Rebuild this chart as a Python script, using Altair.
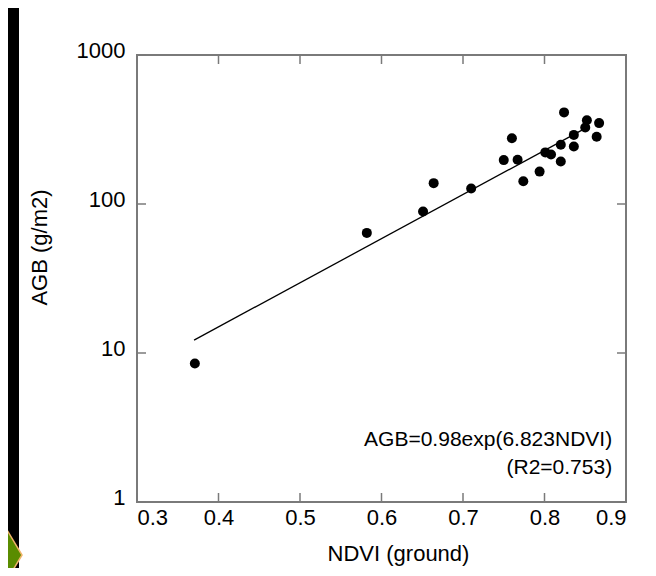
import altair as alt
import pandas as pd

# ---- data ----
ndvi = [0.371, 0.582, 0.651, 0.664, 0.710, 0.750, 0.760, 0.767, 0.774, 0.794,
        0.801, 0.808, 0.820, 0.820, 0.824, 0.836, 0.836, 0.850, 0.852, 0.864, 0.867]
agb = [8.5, 64, 89, 138, 127, 197, 276, 198, 142, 165,
       222, 215, 250, 193, 412, 291, 243, 326, 365, 283, 349]

fit_ndvi = [0.37, 0.855]
fit_agb = [12.2, 333]

x_ticks = [0.3, 0.4, 0.5, 0.6, 0.7, 0.8, 0.9]
y_ticks = [1, 10, 100, 1000]

eq_lines = ["AGB=0.98exp(6.823NDVI)", "(R2=0.753)"]
eq_x = [0.883, 0.883]
eq_y = [2.6, 1.7]

W, H = 489, 447
FONT = "Liberation Sans"
FRAME = "#7a7a7a"
TICK = 9
FS = 22

pts = pd.DataFrame({"ndvi": ndvi, "agb": agb})
fit = pd.DataFrame({"ndvi": fit_ndvi, "agb": fit_agb})
xt = pd.DataFrame({"v": x_ticks})
yt = pd.DataFrame({"v": y_ticks})
eq = pd.DataFrame({"t": eq_lines, "x": eq_x, "y": eq_y})
one = pd.DataFrame({"a": [0]})

xs = alt.Scale(domain=[0.3, 0.9], nice=False, zero=False)
ys = alt.Scale(type="log", domain=[1, 1000], nice=False)

x_axis = alt.Axis(values=x_ticks, format=".1f", title="NDVI (ground)", tickSize=0,
                  domain=False, grid=False, labelPadding=5,
                  titleX=261, titleY=51, titleBaseline="middle", titleAlign="center",
                  labelFontSize=FS, titleFontSize=FS, labelFont=FONT, titleFont=FONT,
                  titleFontWeight="normal", labelColor="black", titleColor="black")
y_axis = alt.Axis(values=y_ticks, format="d", title="AGB (g/m2)", tickSize=0,
                  domain=False, grid=False, labelPadding=12,
                  titleX=-98, titleY=192, titleBaseline="middle", titleAlign="center",
                  labelOffset=-5, labelFontSize=FS, titleFontSize=FS, labelFont=FONT,
                  titleFont=FONT, titleFontWeight="normal", labelColor="black",
                  titleColor="black")

base_x = alt.X("ndvi:Q", scale=xs, axis=x_axis)
base_y = alt.Y("agb:Q", scale=ys, axis=y_axis)

points = alt.Chart(pts).mark_circle(size=100, color="black", opacity=1).encode(
    x=base_x, y=base_y)

line = alt.Chart(fit).mark_line(color="black", strokeWidth=1.3).encode(
    x=alt.X("ndvi:Q", scale=xs), y=alt.Y("agb:Q", scale=ys))

# inward ticks on all four sides
xt_bottom = alt.Chart(xt).mark_rule(color=FRAME, strokeWidth=1.5).encode(
    x=alt.X("v:Q", scale=xs), y=alt.value(H), y2=alt.value(H - TICK))
xt_top = alt.Chart(xt).mark_rule(color=FRAME, strokeWidth=1.5).encode(
    x=alt.X("v:Q", scale=xs), y=alt.value(0), y2=alt.value(TICK))
yt_left = alt.Chart(yt).mark_rule(color=FRAME, strokeWidth=1.5).encode(
    y=alt.Y("v:Q", scale=ys), x=alt.value(0), x2=alt.value(TICK))
yt_right = alt.Chart(yt).mark_rule(color=FRAME, strokeWidth=1.5).encode(
    y=alt.Y("v:Q", scale=ys), x=alt.value(W), x2=alt.value(W - TICK))

text = alt.Chart(eq).mark_text(align="right", baseline="middle", fontSize=21,
                               font=FONT, color="black").encode(
    x=alt.X("x:Q", scale=xs), y=alt.Y("y:Q", scale=ys), text="t:N")

# slide decoration: black band on the left and a green arrow
band = alt.Chart(one).mark_rect(color="black").encode(
    x=alt.value(-129), x2=alt.value(-118), y=alt.value(-47), y2=alt.value(520))
arrow = alt.Chart(one).mark_point(
    shape="M 0 0 L -0.6 1 L -1.5 1 L -1.5 -1 L -0.6 -1 Z", size=3000, filled=True,
    fill="#5a8c00", stroke="#f0b46a", strokeWidth=1.5, opacity=1).encode(
    x=alt.value(-115), y=alt.value(500))

chart = alt.layer(band, arrow, line, points, xt_bottom, xt_top, yt_left, yt_right, text).properties(
    width=W, height=H,
    padding={"left": 129, "top": 47, "right": 20, "bottom": 66},
    autosize=alt.AutoSizeParams(type="none"),
    background="white",
).configure_view(stroke=FRAME, strokeWidth=2)

chart.save("out.html", embed_options={"renderer": "svg", "actions": False})
